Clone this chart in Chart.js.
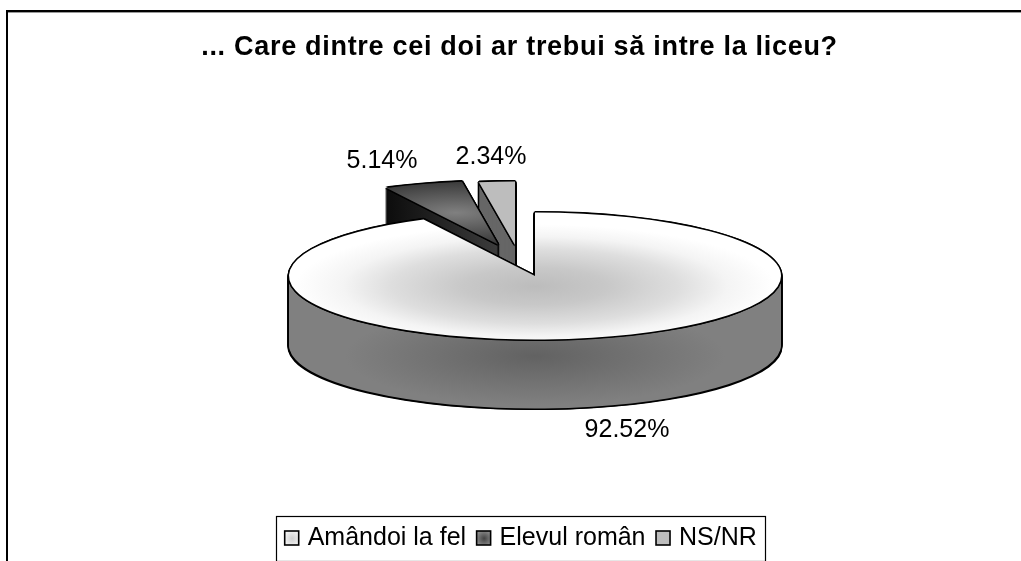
<!DOCTYPE html>
<html>
<head>
<meta charset="utf-8">
<style>html,body{margin:0;padding:0;background:#fff;overflow:hidden}canvas{display:block}</style>
<script src="https://cdn.jsdelivr.net/npm/chart.js@4"></script>
</head>
<body>
<canvas id="c" width="1021" height="561"></canvas>
<script>
const TITLE = '... Care dintre cei doi ar trebui să intre la liceu?';
const CATEGORIES = ['Amândoi la fel', 'Elevul român', 'NS/NR'];
const VALUES = [92.52, 5.14, 2.34];
const COLORS = ['#dedede', '#5c5c5c', '#bdbdbd'];

// Projection of the round pie to a tilted disc
const CX = 535, CY = 276, RX = 246, RY = 63.5, DEPTH = 69;
const FONT = '"Liberation Sans", Arial, sans-serif';
const EXPLODE = [[0, 0], [-37, -122], [-20, -120]];
const LABEL_AT = [[627, 430], [382, 161], [491, 157]];
const LEGEND_SHIFT = 3.5;

function paintArc(ctx, arc, fill) {
  const saved = arc.options;
  arc.options = Object.assign({}, saved, {backgroundColor: fill, borderWidth: 0});
  arc.draw(ctx);
  arc.options = saved;
}
function placed(ctx, arc, i, ox, oy, fn) {
  const SY = RY / RX, s = RX / arc.outerRadius;
  ctx.save();
  ctx.translate(CX + ox, CY + oy);
  ctx.scale(1, SY);
  ctx.translate(EXPLODE[i][0], EXPLODE[i][1]);
  ctx.scale(s, s);
  ctx.translate(-arc.x, -arc.y);
  fn();
  ctx.restore();
}
const tiltedPie = {
  id: 'tiltedPie',
  beforeDraw(chart) {
    const block = chart.titleBlock;
    if (block && !block._spaced) {
      const draw = block.draw;
      block._spaced = true;
      block.draw = function () {
        const ctx = chart.ctx;
        ctx.letterSpacing = '0.7px';
        draw.apply(this, arguments);
        ctx.letterSpacing = '0px';
      };
      const legend = chart.legend, drawLegend = legend.draw;
      legend.draw = function () {
        const ctx = chart.ctx;
        ctx.save();
        ctx.translate(LEGEND_SHIFT, 0);
        drawLegend.apply(this, arguments);
        ctx.restore();
      };
    }
  },
  beforeDatasetDraw(chart) {
    const ctx = chart.ctx, arcs = chart.getDatasetMeta(0).data;
    const SY = RY / RX;
    [2, 1, 0].forEach(i => {
      const arc = arcs[i];
      const k = arc.outerRadius / RX;
      const X = v => arc.x + v * k, Y = v => arc.y + v * k;
      // outline of the extruded body
      for (let d = DEPTH + 1.6; d >= 0; d -= 1) {
        [[-1.6, 0], [1.6, 0]].forEach(o => placed(ctx, arc, i, o[0], d + o[1], () => paintArc(ctx, arc, '#000')));
      }
      // side wall
      for (let d = DEPTH; d >= 1; d -= 1) {
        placed(ctx, arc, i, 0, d, () => {
          let fill;
          if (i === 0) {
            const cy = Y((80 - d) / SY);
            fill = ctx.createRadialGradient(X(0), cy, 0, X(0), cy, 190 * k);
            fill.addColorStop(0, '#626262');
            fill.addColorStop(1, '#808080');
          } else if (i === 1) {
            fill = ctx.createLinearGradient(X(-112), 0, X(0), 0);
            fill.addColorStop(0, '#0c0c0c');
            fill.addColorStop(1, '#3c3c3c');
          } else {
            fill = '#666666';
          }
          paintArc(ctx, arc, fill);
        });
      }
      // outline of the top face
      [[-1.6,0],[1.6,0],[0,-1.6],[0,1.6],[-1.1,-1.1],[1.1,-1.1],[-1.1,1.1],[1.1,1.1]].forEach(o =>
        placed(ctx, arc, i, o[0], o[1], () => paintArc(ctx, arc, '#000')));
      // top face
      placed(ctx, arc, i, 0, 0, () => {
        let fill;
        if (i === 0) {
          fill = ctx.createRadialGradient(X(0), Y(40), 0, X(0), Y(40), 240 * k);
          fill.addColorStop(0, '#bcbcbc');
          fill.addColorStop(0.3, '#c8c8c8');
          fill.addColorStop(0.6, '#dedede');
          fill.addColorStop(0.8, '#f4f4f4');
          fill.addColorStop(1, '#ffffff');
        } else if (i === 1) {
          fill = ctx.createRadialGradient(X(-42), Y(-123), 0, X(-42), Y(-123), 140 * k);
          fill.addColorStop(0, '#808080');
          fill.addColorStop(1, '#303030');
        } else {
          fill = '#bdbdbd';
        }
        paintArc(ctx, arc, fill);
      });
    });
    return false;
  },
  afterDraw(chart) {
    const ctx = chart.ctx;
    ctx.save();
    // page frame
    ctx.fillStyle = '#000';
    ctx.fillRect(6, 10, 2, 551);
    ctx.fillRect(6, 10, 1015, 2.4);
    // value labels
    ctx.font = '25px ' + FONT;
    ctx.textAlign = 'center';
    ctx.textBaseline = 'middle';
    VALUES.forEach((v, i) => ctx.fillText(v.toFixed(2) + '%', LABEL_AT[i][0], LABEL_AT[i][1]));
    // legend frame
    const boxes = chart.legend.legendHitBoxes;
    const mid = boxes[0].top + boxes[0].height / 2;
    ctx.strokeStyle = '#000';
    ctx.lineWidth = 1.2;
    ctx.strokeRect(276.5, Math.round(mid - 23) + 0.5, 489, 45);
    // legend swatches with the shading of their slices
    const SHADES = [['#f2f2f2', '#cfcfcf'], ['#8a8a8a', '#444444'], ['#bdbdbd', '#bdbdbd']];
    boxes.forEach((b, i) => {
      const x = b.left + LEGEND_SHIFT - 4.5, y = mid - 7.5;
      const g = ctx.createRadialGradient(x + 7.5, y + 7.5, 0, x + 7.5, y + 7.5, 8);
      g.addColorStop(0, SHADES[i][1]);
      g.addColorStop(1, SHADES[i][0]);
      ctx.fillStyle = '#fff';
      ctx.fillRect(x - 1, y - 1, 17, 17);
      ctx.fillStyle = g;
      ctx.fillRect(x, y, 14, 14);
      ctx.strokeStyle = '#000';
      ctx.lineWidth = 1.6;
      ctx.strokeRect(x, y, 14, 14);
    });
    ctx.restore();
  }
};

new Chart(document.getElementById('c'), {
  type: 'pie',
  data: {
    labels: CATEGORIES,
    datasets: [{data: VALUES, backgroundColor: COLORS, borderWidth: 0, rotation: 0}]
  },
  plugins: [tiltedPie],
  options: {
    responsive: false,
    animation: false,
    layout: {padding: {left: 18, right: 0, top: 0, bottom: 0}},
    plugins: {
      tooltip: {enabled: false},
      title: {
        display: true,
        text: TITLE,
        color: '#000',
        font: {family: FONT, size: 27, weight: 'bold'},
        padding: {top: 31, bottom: 20}
      },
      legend: {
        display: true,
        position: 'bottom',
        labels: {
          color: '#000',
          font: {family: FONT, size: 25},
          boxWidth: 6,
          boxHeight: 14,
          padding: 15,
          generateLabels(chart) {
            return CATEGORIES.map((t, i) => ({
              text: t, fillStyle: COLORS[i], strokeStyle: '#000', lineWidth: 1, index: i
            }));
          }
        }
      }
    }
  }
});
</script>
</body>
</html>
